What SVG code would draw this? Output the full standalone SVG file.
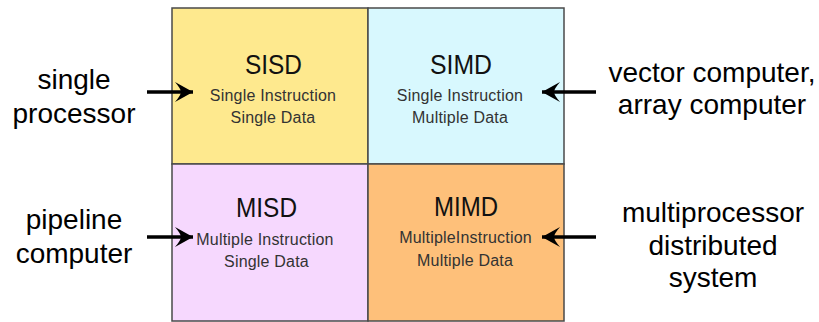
<svg xmlns="http://www.w3.org/2000/svg" width="819" height="322" viewBox="0 0 819 322">
<style>
.cell{stroke:#4a4a4a;stroke-width:1.5}
.title{font-family:"Liberation Sans",Arial,sans-serif;font-size:28px;fill:#111;text-anchor:middle}
.sub{font-family:"Liberation Sans",Arial,sans-serif;font-size:16px;fill:#333;text-anchor:middle;letter-spacing:0.2px}
.lbl{font-family:"Liberation Sans",Arial,sans-serif;font-size:28px;fill:#000;text-anchor:middle}
.arr{stroke:#000;stroke-width:3.5;fill:none}
</style>
<defs>
<marker id="ah" markerUnits="userSpaceOnUse" markerWidth="20" markerHeight="22" viewBox="-19 -11 20 22" refX="0" refY="0" orient="auto">
<path d="M0,0 L-18,-10 Q-12,-3 -12,0 Q-12,3 -18,10 Z" fill="#000"/>
</marker>
</defs>
<rect width="819" height="322" fill="#fff"/>
<g id="sisd">
<rect class="cell" x="172" y="8" width="196" height="156" fill="#FEE98E"/>
<text class="title" x="273.5" y="74" textLength="57" lengthAdjust="spacingAndGlyphs">SISD</text>
<text class="sub" x="273" y="101">Single Instruction</text>
<text class="sub" x="273" y="123">Single Data</text>
</g>
<g id="simd">
<rect class="cell" x="368" y="8" width="196" height="156" fill="#D8F8FE"/>
<text class="title" x="461" y="74" textLength="62" lengthAdjust="spacingAndGlyphs">SIMD</text>
<text class="sub" x="460" y="101">Single Instruction</text>
<text class="sub" x="460" y="123">Multiple Data</text>
</g>
<g id="misd">
<rect class="cell" x="172" y="164" width="196" height="157" fill="#F6D8FE"/>
<text class="title" x="266.5" y="217" textLength="61" lengthAdjust="spacingAndGlyphs">MISD</text>
<text class="sub" x="265" y="245">Multiple Instruction</text>
<text class="sub" x="266.5" y="267">Single Data</text>
</g>
<g id="mimd">
<rect class="cell" x="368" y="164" width="196" height="157" fill="#FEC07A"/>
<text class="title" x="466" y="216" textLength="64" lengthAdjust="spacingAndGlyphs">MIMD</text>
<text class="sub" x="465.5" y="243">MultipleInstruction</text>
<text class="sub" x="465" y="266">Multiple Data</text>
</g>
<g id="label-single">
<text class="lbl" x="74" y="89">single</text>
<text class="lbl" x="74" y="123">processor</text>
</g>
<g id="label-pipeline">
<text class="lbl" x="74" y="229">pipeline</text>
<text class="lbl" x="74" y="263">computer</text>
</g>
<g id="label-vector">
<text class="lbl" x="712" y="82">vector computer,</text>
<text class="lbl" x="712" y="114">array computer</text>
</g>
<g id="label-multi">
<text class="lbl" x="713" y="222">multiprocessor</text>
<text class="lbl" x="713" y="255">distributed</text>
<text class="lbl" x="713" y="287">system</text>
</g>
<g id="connectors">
<line class="arr" x1="147" y1="92" x2="193" y2="92" marker-end="url(#ah)"/>
<line class="arr" x1="147" y1="237" x2="193" y2="237" marker-end="url(#ah)"/>
<line class="arr" x1="596" y1="92" x2="542" y2="92" marker-end="url(#ah)"/>
<line class="arr" x1="596" y1="237" x2="542" y2="237" marker-end="url(#ah)"/>
</g>
</svg>
